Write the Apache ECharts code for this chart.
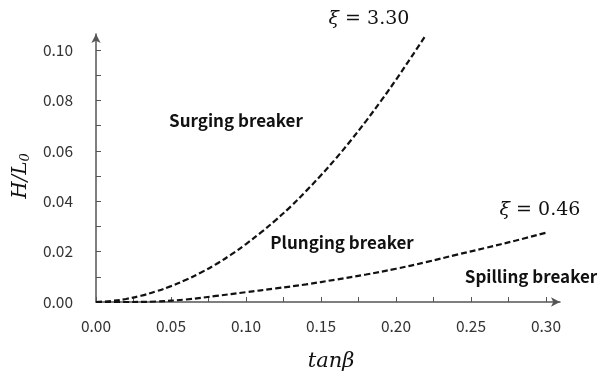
<!DOCTYPE html>
<html>
<head>
<meta charset="utf-8">
<script src="https://cdn.jsdelivr.net/npm/echarts@6/dist/echarts.min.js"></script>
<style>html,body{margin:0;padding:0;background:#fff}#c{width:613px;height:381px}</style>
</head>
<body>
<div id="c"></div>
<script>
// tanβ values and H/L0 for each curve
const surgingX = [0, 0.01, 0.02, 0.03, 0.04, 0.05, 0.06, 0.07, 0.08, 0.09, 0.10, 0.11, 0.12, 0.13, 0.14, 0.15, 0.16, 0.17, 0.18, 0.19, 0.20, 0.21, 0.22];
const surgingY = [0, 0.0004, 0.0012, 0.0025, 0.0042, 0.0063, 0.0088, 0.0117, 0.0150, 0.0188, 0.0230, 0.0276, 0.0326, 0.0380, 0.0440, 0.0503, 0.0570, 0.0642, 0.0718, 0.0798, 0.0882, 0.0970, 0.1060];
const spillingX = [0, 0.02, 0.04, 0.06, 0.08, 0.10, 0.12, 0.14, 0.16, 0.18, 0.20, 0.22, 0.24, 0.26, 0.28, 0.30];
const spillingY = [0, 0.0000, 0.0002, 0.0010, 0.0024, 0.0039, 0.0054, 0.0070, 0.0089, 0.0109, 0.0132, 0.0158, 0.0187, 0.0215, 0.0244, 0.0275];
const xTickLabels = ['0.00', '0.05', '0.10', '0.15', '0.20', '0.25', '0.30'];
const yTickLabels = ['0.00', '0.02', '0.04', '0.06', '0.08', '0.10'];
const curveValues = ['3.30', '0.46'];
const regionNames = ['Surging breaker', 'Plunging breaker', 'Spilling breaker'];

const zip = (a, b) => a.map((v, i) => [v, b[i]]);
const tickFont = '"Noto Sans CJK KR", "Noto Sans", sans-serif';
const serif = '"DejaVu Serif", serif';
const regionFont = 'bold 17px "Noto Sans CJK KR", "Noto Sans", sans-serif';

const xiText = (v) => ({
  rich: {
    g: { fontFamily: serif, fontStyle: 'italic', fontSize: 19, fill: '#111' },
    n: { fontFamily: serif, fontSize: 19, fill: '#111' }
  },
  text: '{g|ξ}{n| = ' + v + '}'
});

const chart = echarts.init(document.getElementById('c'));
chart.setOption({
  animation: false,
  backgroundColor: '#fff',
  grid: [
    { left: 96, right: 67, top: 50, bottom: 79 },
    { left: 96, right: 53, top: 34, bottom: 79 }
  ],
  xAxis: [
    {
      gridIndex: 0, type: 'value', min: 0, max: 0.30, interval: 0.025,
      axisLine: { show: false },
      axisTick: { show: true, inside: true, length: 5, lineStyle: { color: '#555', width: 1 } },
      splitLine: { show: false },
      axisLabel: {
        margin: 16, fontFamily: tickFont, fontSize: 15.5, color: '#333',
        formatter: v => {
          const i = Math.round(v / 0.05);
          return Math.abs(v - i * 0.05) < 1e-6 ? (xTickLabels[i] || '') : '';
        }
      },
      name: 'tanβ', nameLocation: 'middle', nameGap: 49,
      nameTextStyle: { fontFamily: serif, fontStyle: 'italic', fontSize: 21, color: '#111', padding: [0, 0, 0, 20] }
    },
    {
      gridIndex: 1, type: 'value', min: 0, max: 1,
      axisLine: { show: true, symbol: ['none', 'arrow'], symbolSize: [7, 9], lineStyle: { color: '#555', width: 1.5 } },
      axisTick: { show: false }, axisLabel: { show: false }, splitLine: { show: false }
    }
  ],
  yAxis: [
    {
      gridIndex: 0, type: 'value', min: 0, max: 0.10, interval: 0.01,
      axisLine: { show: false },
      axisTick: { show: true, inside: true, length: 5, lineStyle: { color: '#555', width: 1 } },
      splitLine: { show: false },
      axisLabel: {
        margin: 23, fontFamily: tickFont, fontSize: 15.5, color: '#333',
        formatter: v => {
          const i = Math.round(v / 0.02);
          return Math.abs(v - i * 0.02) < 1e-6 ? (yTickLabels[i] || '') : '';
        }
      },
      name: '{i|H/L}{s|0}', nameLocation: 'middle', nameGap: 63, nameRotate: 90,
      nameTextStyle: {
        rich: {
          i: { fontFamily: serif, fontStyle: 'italic', fontSize: 20, color: '#111' },
          s: { fontFamily: serif, fontStyle: 'italic', fontSize: 13, color: '#111', padding: [10, 0, 0, 0] }
        }
      }
    },
    {
      gridIndex: 1, type: 'value', min: 0, max: 1,
      axisLine: { show: true, symbol: ['none', 'arrow'], symbolSize: [7, 9], lineStyle: { color: '#555', width: 1.5 } },
      axisTick: { show: false }, axisLabel: { show: false }, splitLine: { show: false }
    }
  ],
  series: [
    {
      type: 'line', name: 'ξ = ' + curveValues[0], xAxisIndex: 0, yAxisIndex: 0,
      data: zip(surgingX, surgingY), smooth: 0.4, showSymbol: false, clip: false,
      lineStyle: { color: '#111', width: 2.2, type: [6, 3] }
    },
    {
      type: 'line', name: 'ξ = ' + curveValues[1], xAxisIndex: 0, yAxisIndex: 0,
      data: zip(spillingX, spillingY), smooth: 0.4, showSymbol: false, clip: false,
      lineStyle: { color: '#111', width: 2.2, type: [6, 3] }
    }
  ],
  graphic: [
    { type: 'text', x: 369, y: 19, style: Object.assign(xiText(curveValues[0]), { textAlign: 'center', textVerticalAlign: 'middle' }) },
    { type: 'text', x: 540, y: 210, style: Object.assign(xiText(curveValues[1]), { textAlign: 'center', textVerticalAlign: 'middle' }) },
    { type: 'text', x: 236, y: 121, style: { text: regionNames[0], font: regionFont, fill: '#111', textAlign: 'center', textVerticalAlign: 'middle' } },
    { type: 'text', x: 342, y: 243, style: { text: regionNames[1], font: regionFont, fill: '#111', textAlign: 'center', textVerticalAlign: 'middle' } },
    { type: 'text', x: 531, y: 277, style: { text: regionNames[2], font: regionFont, fill: '#111', textAlign: 'center', textVerticalAlign: 'middle' } }
  ]
});
</script>
</body>
</html>
